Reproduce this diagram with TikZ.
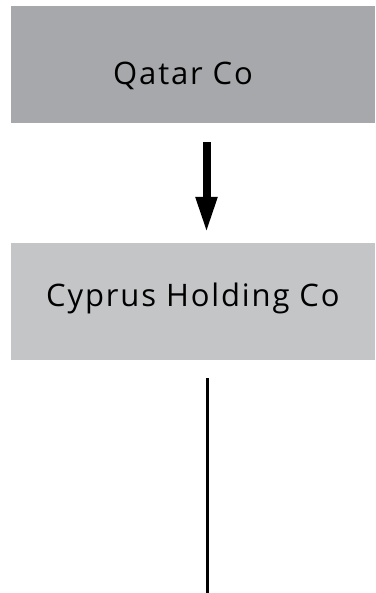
\documentclass[tikz,border=0pt]{standalone}
\usepackage{fontspec}
\setmainfont{Open Sans}[LetterSpace=6]
\usetikzlibrary{arrows.meta}
\definecolor{boxdark}{HTML}{A7A8AB}
\definecolor{boxlight}{HTML}{C4C5C7}
\tikzset{
  entity/.style={minimum width=364pt, minimum height=117pt, inner sep=0pt},
  entitytext/.style={inner sep=0pt, anchor=base west, text=black,
    font=\fontsize{31}{36}\selectfont},
  bigarrow/.style={line width=8pt, -{Triangle[length=36pt,width=20pt]}},
  link/.style={line width=3.3pt}
}
\begin{document}
\begin{tikzpicture}[x=1pt,y=1pt]
\useasboundingbox (0,0) rectangle (375,-593);
\node[entity, fill=boxdark] (qatar) at (193,-64.5) {};
\node[entity, fill=boxlight] (cyprus) at (193,-301.5) {};
\node[entitytext] (qatartext) at (113,-85) {Qatar Co};
\node[entitytext] (cyprustext) at (46,-306) {Cyprus Holding Co};
\coordinate (bottom) at (207.5,-593);
\draw[bigarrow, shorten <=19pt, shorten >=10pt] ([xshift=13.5pt]qatar.south) -- ([xshift=13.5pt]cyprus.north);
\draw[link, shorten <=18pt] ([xshift=14.5pt]cyprus.south) -- (bottom);
\end{tikzpicture}
\end{document}
